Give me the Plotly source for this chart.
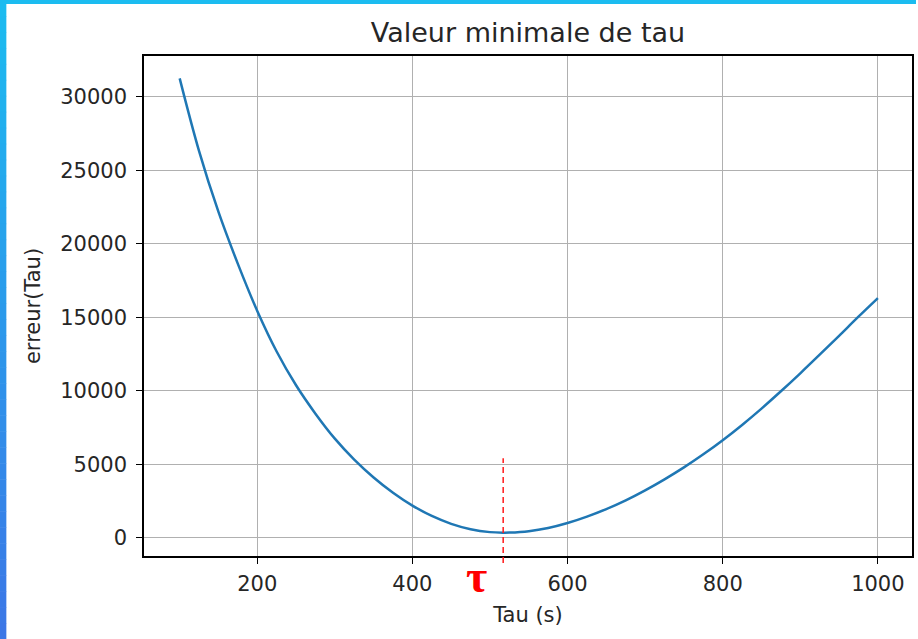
import plotly.graph_objects as go

# ---- data ----
tau = [100, 125, 150, 175, 200, 225, 250, 275, 300, 325, 350, 375, 400,
       425, 450, 475, 500, 517, 525, 550, 575, 600, 625, 650, 675, 700,
       725, 750, 775, 800, 825, 850, 875, 900, 925, 950, 975, 1000]
erreur = [31250, 26300, 22160, 18630, 15430, 12670, 10370, 8440, 6740, 5315,
          4100, 3060, 2185, 1479, 944, 577, 379, 340, 346, 444, 662, 1000,
          1437, 1950, 2543, 3223, 3973, 4785, 5673, 6635, 7673, 8785, 9960,
          11185, 12448, 13735, 15035, 16300]
tau_min = 517
tau_min_line = [-1720, 5400]          # extent of the red dashed marker (data units)
x_ticks = [200, 400, 600, 800, 1000]
y_ticks = [0, 5000, 10000, 15000, 20000, 25000, 30000]

X_RANGE = [54, 1044]
Y_RANGE = [-1245, 32770]

fig = go.Figure()
fig.add_trace(go.Scatter(
    x=tau, y=erreur, mode="lines",
    line=dict(color="#1f77b4", width=2.5, shape="spline", smoothing=1.0),
    showlegend=False, hoverinfo="skip"))

def to_paper(v):
    return (v - Y_RANGE[0]) / (Y_RANGE[1] - Y_RANGE[0])

shapes = []
# red dashed vertical line at the minimum
shapes.append(dict(type="line", xref="x", yref="paper",
                   x0=tau_min, x1=tau_min,
                   y0=to_paper(tau_min_line[0]), y1=to_paper(tau_min_line[1]),
                   line=dict(color="#ff1a1a", width=1.5, dash="6px,4px")))

# decorative border: top cyan strip and left gradient strip
W, H = 918, 639
shapes.append(dict(type="rect", xref="paper", yref="paper", layer="above",
                   x0=-144 / (W - 148), x1=(W - 144) / (W - 148),
                   y0=1 + (56 - 4) / 500, y1=1 + 56 / 500 + 0.01,
                   fillcolor="#1bbcf0", line=dict(width=0)))
c0 = (0x1b, 0xbc, 0xf0)
c1 = (0x3c, 0x76, 0xe6)
n = 40
for i in range(n):
    t = (i + 0.5) / n
    col = tuple(int(round(c0[k] + (c1[k] - c0[k]) * t)) for k in range(3))
    ytop = i * H / n
    ybot = (i + 1) * H / n + 0.5
    shapes.append(dict(type="rect", xref="paper", yref="paper", layer="above",
                       x0=-144 / (W - 148) - 0.01, x1=(-144 + 6) / (W - 148),
                       y0=(556 - ybot) / 500, y1=(556 - ytop) / 500,
                       fillcolor="rgb(%d,%d,%d)" % col, line=dict(width=0)))

FONT = "DejaVu Sans"
TXT = "#262626"
axis_common = dict(showline=True, linecolor="black", linewidth=1.5, mirror=True,
                   showgrid=True, gridcolor="#b0b0b0", gridwidth=1.2,
                   zeroline=False, ticks="outside", ticklen=6, tickwidth=1.3,
                   tickcolor="black",
                   tickfont=dict(family=FONT, size=21, color=TXT))

fig.update_layout(
    width=W, height=H,
    margin=dict(l=144, r=4, t=56, b=83),
    paper_bgcolor="white", plot_bgcolor="white",
    title=dict(text="Valeur minimale de tau", x=0.5, xref="paper",
               y=1 - 33 / H, yref="container", xanchor="center", yanchor="middle",
               font=dict(family=FONT, size=27, color=TXT)),
    xaxis=dict(range=X_RANGE, tickvals=x_ticks, ticktext=[str(v) for v in x_ticks],
               ticklabelstandoff=2,
               title=dict(text="Tau (s)", standoff=12,
                          font=dict(family=FONT, size=21, color=TXT)),
               **axis_common),
    yaxis=dict(range=Y_RANGE, tickvals=y_ticks, ticktext=[str(v) for v in y_ticks],
               ticklabelstandoff=5,
               title=dict(text="erreur(Tau)", standoff=14,
                          font=dict(family=FONT, size=21, color=TXT)),
               **axis_common),
    shapes=shapes,
    annotations=[dict(text="<b>τ</b>", x=tau_min - 34, y=to_paper(-2650),
                      xref="x", yref="paper", showarrow=False,
                      xanchor="center", yanchor="middle",
                      font=dict(family="Liberation Serif", size=46, color="#ff0000"))],
)

fig.write_html("out.html")
